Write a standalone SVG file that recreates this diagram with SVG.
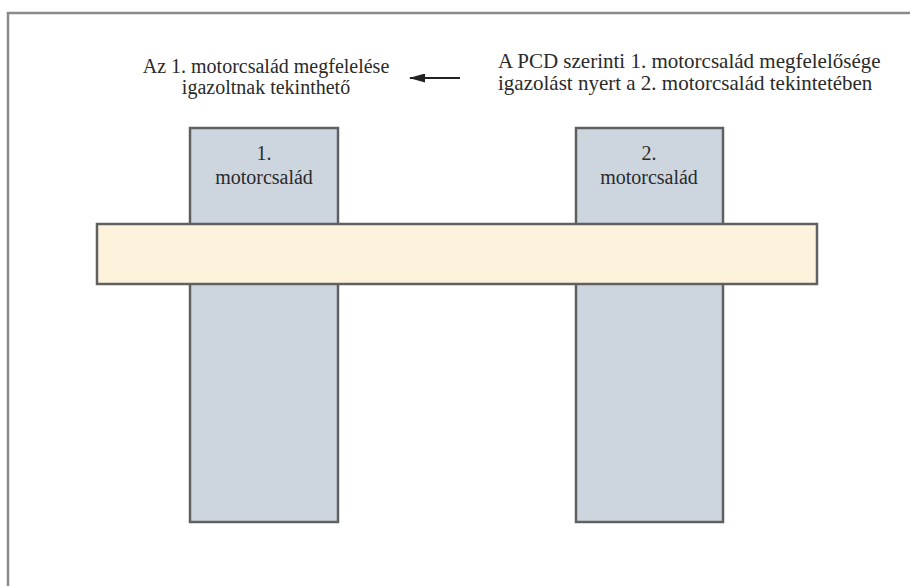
<svg xmlns="http://www.w3.org/2000/svg" width="910" height="586" viewBox="0 0 910 586">
<style>
text{font-size:20px;fill:#2a2a2a}
.c{text-anchor:middle}
.r{font-size:21px}
.col{fill:#cdd6df;stroke:#606060;stroke-width:2.5}
.bar{fill:#fdf2dc;stroke:#606060;stroke-width:2.5}
</style>
<defs>
<marker id="ah" markerWidth="16" markerHeight="9" refX="15" refY="4.5" orient="auto" markerUnits="userSpaceOnUse">
<path d="M0,0 L16,4.5 L0,9 Z" fill="#222"/>
</marker>
</defs>
<rect x="0" y="0" width="910" height="586" fill="#fff"/>
<path d="M8,600 V13 H920" fill="none" stroke="#8a8a8a" stroke-width="2.5"/>
<g font-family="Liberation Serif">
<g id="col1">
<rect class="col" x="190" y="128" width="148" height="394"/>
<text class="c" x="264" y="160">1.</text>
<text class="c" x="264" y="184">motorcsalád</text>
</g>
<g id="col2">
<rect class="col" x="576" y="128" width="147" height="394"/>
<text class="c" x="649" y="160">2.</text>
<text class="c" x="649" y="184">motorcsalád</text>
</g>
<g id="bar">
<rect class="bar" x="97" y="224" width="720" height="60"/>
</g>
<g id="left-text">
<text class="c" x="266" y="73">Az 1. motorcsalád megfelelése</text>
<text class="c" x="266" y="94">igazoltnak tekinthető</text>
</g>
<g id="right-text">
<text class="r" x="498" y="68">A PCD szerinti 1. motorcsalád megfelelősége</text>
<text class="r" x="498" y="90">igazolást nyert a 2. motorcsalád tekintetében</text>
</g>
</g>
<g id="connectors">
<line x1="460" y1="78" x2="410" y2="78" stroke="#222" stroke-width="2.2" marker-end="url(#ah)"/>
</g>
</svg>
